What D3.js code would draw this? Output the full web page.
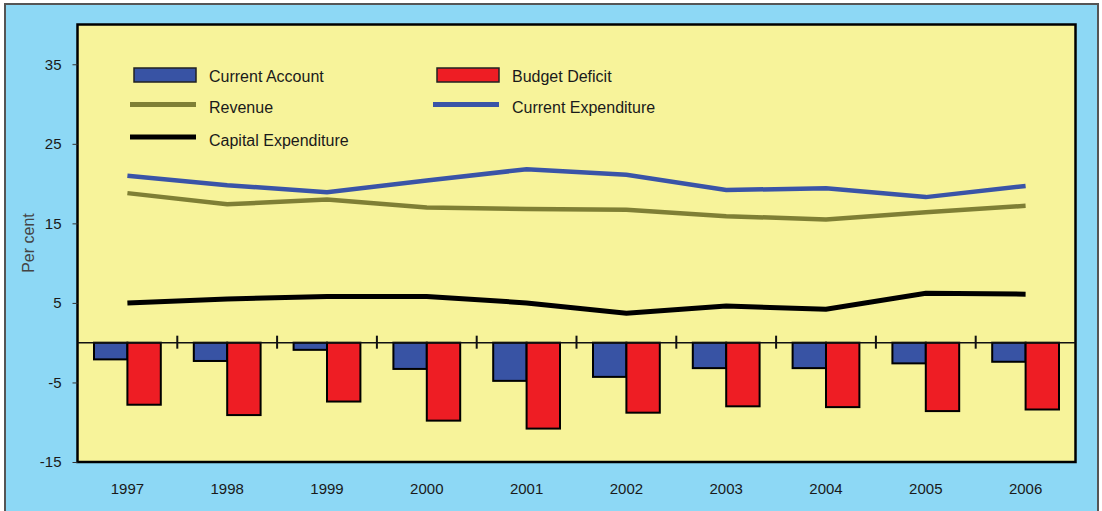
<!DOCTYPE html>
<html>
<head>
<meta charset="utf-8">
<script src="https://cdn.jsdelivr.net/npm/d3@7"></script>
<style>
  body { margin: 0; background: #fff; }
  text { font-family: "Liberation Sans", Arial, sans-serif; fill: #1a1a1a; }
</style>
</head>
<body>
<svg id="chart" width="1102" height="511"></svg>
<script>
var years = ["1997", "1998", "1999", "2000", "2001", "2002", "2003", "2004", "2005", "2006"];
var currentAccount = [-2.1, -2.3, -0.9, -3.3, -4.8, -4.3, -3.2, -3.2, -2.6, -2.4];
var budgetDeficit = [-7.8, -9.1, -7.4, -9.8, -10.8, -8.8, -8.0, -8.1, -8.6, -8.4];
var revenue = [18.8, 17.4, 18.0, 17.0, 16.8, 16.7, 15.9, 15.5, 16.4, 17.2];
var currentExpenditure = [21.0, 19.8, 18.9, 20.4, 21.8, 21.1, 19.2, 19.4, 18.3, 19.7];
var capitalExpenditure = [5.0, 5.5, 5.8, 5.8, 5.0, 3.7, 4.6, 4.2, 6.2, 6.1];
var yTicks = [35, 25, 15, 5, -5, -15];

var svg = d3.select("#chart");

// outer blue panel
svg.append("rect")
    .attr("x", 5).attr("y", 4)
    .attr("width", 1093).attr("height", 512)
    .style("fill", "#8dd8f5")
    .style("stroke", "#555")
    .style("stroke-width", 2);

var plotLeft = 77.5, plotRight = 1075.5, plotTop = 24.5, plotBottom = 462;

var x = d3.scaleBand()
    .domain(years)
    .range([plotLeft, plotRight]);

var x1 = d3.scaleBand()
    .domain(["ca", "bd"])
    .range([16.5, x.bandwidth() - 16.5]);

var y = d3.scaleLinear()
    .domain([-15, 40])
    .range([plotBottom, plotTop]);

// plot area
svg.append("rect")
    .attr("x", plotLeft).attr("y", plotTop)
    .attr("width", plotRight - plotLeft).attr("height", plotBottom - plotTop)
    .style("fill", "#f7f39a")
    .style("stroke", "#000")
    .style("stroke-width", 2.5);

var yAxis = d3.axisLeft(y)
    .tickValues(yTicks)
    .tickSize(5)
    .tickPadding(11)
    .tickFormat(function(d) { return String(d); });

var gy = svg.append("g")
    .attr("transform", "translate(" + plotLeft + ",0)")
    .call(yAxis);
gy.select(".domain").remove();
gy.selectAll(".tick line").style("stroke", "#333");
gy.selectAll(".tick text")
    .style("font-size", "15px")
    .style("font-family", "Liberation Sans, Arial, sans-serif")
    .style("fill", "#1a1a1a");

svg.append("text")
    .attr("transform", "translate(34,243) rotate(-90)")
    .style("text-anchor", "middle")
    .style("font-size", "16px")
    .style("fill", "#444")
    .text("Per cent");

// year labels
svg.selectAll(".year")
    .data(years)
    .enter().append("text")
    .attr("class", "year")
    .attr("x", function(d) { return x(d) + x.bandwidth() / 2; })
    .attr("y", 494)
    .style("text-anchor", "middle")
    .style("font-size", "15px")
    .text(function(d) { return d; });

// bars
var groups = svg.selectAll(".grp")
    .data(years)
    .enter().append("g")
    .attr("class", "grp")
    .attr("transform", function(d) { return "translate(" + x(d) + ",0)"; });

groups.append("rect")
    .attr("x", x1("ca"))
    .attr("y", y(0))
    .attr("width", x1.bandwidth())
    .attr("height", function(d, i) { return y(currentAccount[i]) - y(0); })
    .style("fill", "#3853a4")
    .style("stroke", "#000")
    .style("stroke-width", 2);

groups.append("rect")
    .attr("x", x1("bd"))
    .attr("y", y(0))
    .attr("width", x1.bandwidth())
    .attr("height", function(d, i) { return y(budgetDeficit[i]) - y(0); })
    .style("fill", "#ee1d24")
    .style("stroke", "#000")
    .style("stroke-width", 2);

// zero line and group separators
svg.append("line")
    .attr("x1", plotLeft).attr("x2", plotRight)
    .attr("y1", y(0)).attr("y2", y(0))
    .style("stroke", "#111")
    .style("stroke-width", 1.5);

svg.selectAll(".sep")
    .data(years.slice(1))
    .enter().append("line")
    .attr("class", "sep")
    .attr("x1", function(d) { return x(d); })
    .attr("x2", function(d) { return x(d); })
    .attr("y1", y(0) - 7)
    .attr("y2", y(0) + 6)
    .style("stroke", "#111")
    .style("stroke-width", 2);

// lines
var line = d3.line()
    .x(function(d, i) { return x(years[i]) + x.bandwidth() / 2; })
    .y(function(d) { return y(d); });

var series = [
    {values: revenue, color: "#7f7f35", width: 4.5},
    {values: currentExpenditure, color: "#3a54a7", width: 4.5},
    {values: capitalExpenditure, color: "#000", width: 5}
];

svg.selectAll(".series")
    .data(series)
    .enter().append("path")
    .attr("class", "series")
    .attr("d", function(d) { return line(d.values); })
    .style("fill", "none")
    .style("stroke", function(d) { return d.color; })
    .style("stroke-width", function(d) { return d.width; });

// legend
var legendItems = [
    {label: "Current Account", type: "rect", color: "#3853a4", col: 0, row: 0},
    {label: "Budget Deficit", type: "rect", color: "#ee1d24", col: 1, row: 0},
    {label: "Revenue", type: "line", color: "#7f7f35", col: 0, row: 1},
    {label: "Current Expenditure", type: "line", color: "#3a54a7", col: 1, row: 1},
    {label: "Capital Expenditure", type: "line", color: "#000", col: 0, row: 2}
];
var colX = [130, 433], rowY = [75, 104.5, 137];

var legend = svg.selectAll(".legend")
    .data(legendItems)
    .enter().append("g")
    .attr("class", "legend")
    .attr("transform", function(d) { return "translate(" + colX[d.col] + "," + rowY[d.row] + ")"; });

legend.filter(function(d) { return d.type === "rect"; })
    .append("rect")
    .attr("x", 4).attr("y", -7)
    .attr("width", 62).attr("height", 14)
    .style("fill", function(d) { return d.color; })
    .style("stroke", "#222")
    .style("stroke-width", 1.5);

legend.filter(function(d) { return d.type === "line"; })
    .append("line")
    .attr("x1", 0).attr("x2", 66)
    .attr("y1", 0).attr("y2", 0)
    .style("stroke", function(d) { return d.color; })
    .style("stroke-width", 5);

legend.append("text")
    .attr("x", 79)
    .attr("y", function(d) { return d.type === "rect" ? 1 : 3; })
    .attr("dy", ".35em")
    .style("font-size", "16px")
    .text(function(d) { return d.label; });
</script>
</body>
</html>
